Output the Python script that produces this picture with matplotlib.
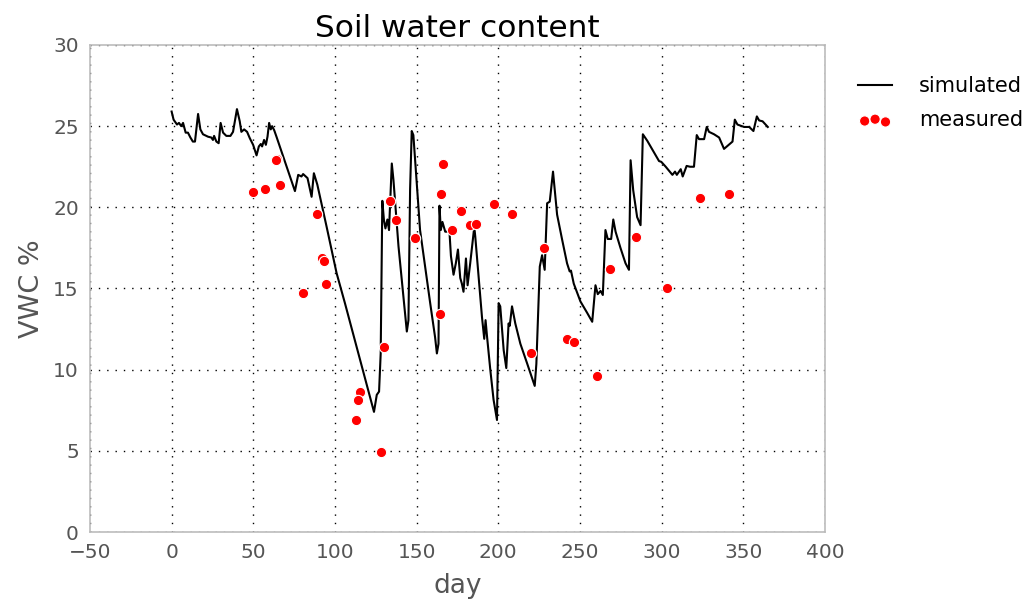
import numpy as np
import matplotlib
matplotlib.use('Agg')
from matplotlib import pyplot as plt

# simulated soil water content (vertices of the daily curve)
sim_day = [0, 1.2, 3.3, 4.5, 5.9, 7, 8.6, 10, 11.5, 13, 14.3, 16.2, 17.6, 19.2, 22.3, 24.3, 25.3, 26,
           27.4, 28.8, 30, 31.5, 33.5, 36, 37.6, 40, 41.7, 42.7, 44.4, 46.2, 47.9, 49.9, 52, 53.4,
           54.6, 55.4, 56.6, 57.7, 58.7, 59.7, 60.7, 61.5, 62.8, 64.2, 75.5, 77.5, 79.5, 80.5, 83.2,
           85.7, 87.1, 89.2, 94.9, 101, 106.1, 113.3, 123.9, 125.6, 127, 128, 129, 130, 130.9, 132.1,
           133.1, 134.8, 135.8, 138.9, 141.9, 144, 145, 146, 147, 148, 150.1, 152.1, 155.2, 158.3,
           161.3, 162.4, 163.4, 164, 164.8, 165.8, 167.5, 170.1, 171, 172.6, 174, 175.3, 176.7,
           177.7, 178.7, 180.2, 181.2, 182.8, 185.3, 185.9, 188, 190, 191.4, 192.2, 193.1, 195.1,
           197.1, 199.2, 200.2, 201.2, 203.3, 204.9, 206.3, 207, 208.4, 210.4, 213.5, 217.6, 222.3,
           223.3, 225.4, 226.8, 228.4, 229.9, 231.5, 233.5, 236, 239.1, 242.1, 243.7, 244.5, 246.2,
           250.3, 254.4, 257.5, 259.5, 260.9, 262.6, 264, 265.6, 267, 269.1, 270.4, 271.8, 274.8,
           277.9, 280, 281, 282.6, 285, 287.1, 288.5, 291.2, 298.4, 299.8, 302.5, 306.6, 308.2,
           309.3, 311.7, 312.9, 315.3, 317.4, 319.8, 321.5, 322.9, 326, 327.6, 329, 332.1, 335.2,
           338.2, 339.9, 343.4, 344.8, 346.4, 350.5, 353.6, 356.2, 358.3, 359.7, 361.8, 365]
sim_vwc = [25.9, 25.4, 25.1, 25.2, 25.0, 25.2, 24.6, 24.6, 24.3, 24.05, 24.05, 25.75, 24.8, 24.5,
           24.35, 24.3, 24.15, 24.4, 24.05, 23.95, 25.2, 24.6, 24.4, 24.4, 24.65, 26.05, 25.3, 24.65,
           24.8, 24.65, 24.25, 23.85, 23.2, 23.75, 23.9, 23.75, 24.15, 23.85, 24.35, 25.2, 24.8,
           25.0, 24.75, 24.35, 21.0, 22.0, 21.9, 22.05, 21.8, 20.65, 22.1, 21.4, 18.8, 15.95, 14.1,
           11.4, 7.4, 8.45, 8.65, 11.0, 20.4, 19.2, 18.7, 19.25, 18.6, 22.7, 21.7, 17.6, 14.5, 12.35,
           13.05, 21.1, 24.7, 24.45, 21.5, 18.6, 16.35, 14.1, 12.0, 11.0, 11.6, 20.1, 18.6, 19.1,
           18.5, 18.5, 17.0, 15.85, 16.55, 17.4, 15.65, 15.3, 14.8, 16.85, 15.2, 16.55, 18.8, 18.2,
           15.7, 13.25, 11.9, 13.05, 12.05, 10.0, 8.15, 6.9, 14.1, 13.9, 11.2, 10.1, 12.85, 12.7,
           13.9, 12.85, 11.6, 10.4, 9.0, 10.35, 16.35, 17.05, 16.15, 20.25, 20.35, 22.2, 19.55, 18.0,
           16.55, 16.05, 16.1, 15.3, 14.2, 13.5, 12.95, 15.2, 14.65, 14.85, 14.6, 18.6, 18.05, 18.05,
           19.25, 18.5, 17.5, 16.55, 16.15, 22.9, 21.05, 19.4, 18.9, 24.5, 24.1, 22.85, 22.8, 22.5,
           22.0, 22.2, 22.0, 22.35, 21.9, 22.55, 22.5, 22.5, 24.45, 24.2, 24.2, 24.95, 24.65, 24.5,
           24.3, 23.6, 23.75, 24.05, 25.4, 25.1, 24.95, 24.95, 24.7, 25.6, 25.35, 25.3, 24.95]

# measured soil water content
meas_day = [49.9, 57, 66.3, 64.6, 63.8, 89.2, 92, 93.3, 94.3, 80.2, 130.3, 115.3, 114.1, 112.9,
            128.2, 134, 137.2, 149.3, 166, 165.2, 164.4, 177.1, 171.4, 182.8, 186.5, 197.1, 208.4,
            220.2, 228.2, 241.9, 246.2, 260.3, 268.3, 284.5, 303.3, 323.3, 341.5]
meas_vwc = [20.97, 21.1, 21.4, 23.0, 22.9, 19.6, 16.9, 16.7, 15.3, 14.7, 11.4, 8.6, 8.15, 6.9,
            4.95, 20.4, 19.2, 18.1, 22.65, 20.85, 13.4, 19.8, 18.6, 18.9, 19.0, 20.2, 19.6, 11.0,
            17.5, 11.9, 11.7, 9.6, 16.2, 18.2, 15.0, 20.6, 20.8]

plt.rcParams['font.family'] = 'DejaVu Sans'

fig = plt.figure(figsize=(10.28, 6.12), dpi=100)
ax = fig.add_axes([0.0875, 0.1307, 0.715, 0.7958])

ax.plot(sim_day, sim_vwc, color='black', lw=1.5, label='simulated')
ax.scatter(meas_day, meas_vwc, s=55, color='red', edgecolors='white', linewidths=0.8,
           label='measured', zorder=3)

ax.set_xlim(-50, 400)
ax.set_ylim(0, 30)
ax.set_xticks(np.arange(-50, 401, 50))
ax.set_yticks(np.arange(0, 31, 5))
ax.grid(True, color='black', linestyle=(0, (1, 5)), linewidth=1.0)
ax.set_axisbelow(True)
ax.tick_params(length=0, labelsize=14.5, labelcolor='#555555', pad=8)
for s in ax.spines.values():
    s.set_color('#bcbcbc')
    s.set_linewidth(1.2)

ax.set_title('Soil water content', fontsize=22.5, color='black', pad=6)
ax.set_xlabel('day', fontsize=19, color='#555555', labelpad=8)
ax.set_ylabel('VWC %', fontsize=19.5, color='#555555', labelpad=6)

ax.legend(loc='upper left', bbox_to_anchor=(1.02, 0.975), frameon=False, scatterpoints=3,
          fontsize=15, handlelength=1.6, handletextpad=1.3, labelspacing=0.7)

fig.savefig('out.png', dpi=100)
